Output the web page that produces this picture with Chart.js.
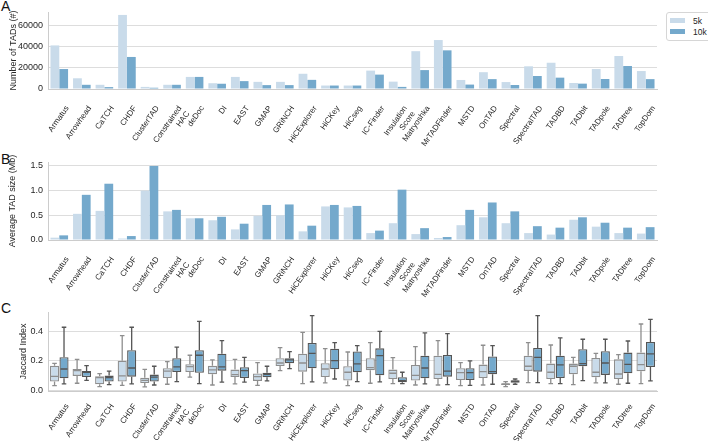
<!DOCTYPE html>
<html>
<head>
<meta charset="utf-8">
<script src="https://cdn.jsdelivr.net/npm/chart.js@4.4.0/dist/chart.umd.min.js"></script>
<style>
  body { margin: 0; background: #fff; width: 708px; height: 441px; position: relative; overflow: hidden;
         font-family: "Liberation Sans", Arial, sans-serif; }
  canvas { position: absolute; left: 0; }
  .panel { position: absolute; left: 1px; font-size: 14px; color: #111; }
  #legend { position: absolute; left: 666px; top: 12px; width: 50px; height: 27px; border: 1px solid #d6d6d6;
            border-radius: 3px; background: #fff; font-size: 8.5px; color: #262626; }
  #legend div { position: absolute; left: 3px; height: 10px; line-height: 10px; }
  #legend span { display: inline-block; width: 15px; height: 5px; margin-right: 8px; vertical-align: 1px; }
</style>
</head>
<body>
<div class="panel" style="top:-2px">A</div>
<div class="panel" style="top:151px">B</div>
<div class="panel" style="top:300px">C</div>
<canvas id="chartA" width="708" height="150" style="top:0"></canvas>
<canvas id="chartB" width="708" height="150" style="top:150px"></canvas>
<canvas id="chartC" width="708" height="141" style="top:300px"></canvas>
<div id="legend">
  <div style="top:3px"><span style="background:#c9dbea"></span>5k</div>
  <div style="top:14px"><span style="background:#74a9cc"></span>10k</div>
</div>
<script>
// DATA
const methods = ['Armatus', 'Arrowhead', 'CaTCH', 'CHDF', 'ClusterTAD', ['Constrained', 'HAC'], 'deDoc', 'DI', 'EAST',
  'GMAP', 'GRiNCH', 'HiCExplorer', 'HiCKey', 'HiCseg', 'IC-Finder', ['Insulation', 'Score'], 'Matryoshka',
  'MrTADFinder', 'MSTD', 'OnTAD', 'Spectral', 'SpectralTAD', 'TADBD', 'TADbit', 'TADpole', 'TADtree', 'TopDom'];

const tadCount5k = [41500, 10200, 4000, 70500, 2000, 4000, 11500, 5500, 11500, 6800, 6800, 14500, 3300, 3300,
  17500, 7000, 36000, 46600, 8600, 16000, 6600, 21600, 25000, 5700, 19000, 31400, 17100];
const tadCount10k = [19000, 4000, 1800, 30500, 1200, 4000, 11500, 5000, 7500, 3700, 3700, 8700, 3300, 3300,
  13700, 2000, 18000, 36800, 4200, 9400, 3800, 12400, 10800, 5100, 9500, 21900, 9400];

const tadSize5k = [0.047, 0.53, 0.59, 0.03, 1.0, 0.58, 0.44, 0.40, 0.215, 0.49, 0.50, 0.175, 0.68, 0.66,
  0.14, 0.34, 0.12, 0.04, 0.30, 0.46, 0.34, 0.14, 0.11, 0.41, 0.27, 0.14, 0.13];
const tadSize10k = [0.094, 0.915, 1.14, 0.08, 1.5, 0.61, 0.44, 0.47, 0.33, 0.71, 0.72, 0.29, 0.71, 0.69,
  0.19, 1.02, 0.24, 0.06, 0.61, 0.76, 0.58, 0.28, 0.25, 0.46, 0.35, 0.25, 0.26];

// Jaccard index boxes: [low whisker, q1, median, q3, high whisker]
const jaccard5k = [
  [0.032, 0.059, 0.095, 0.168, 0.184], [0.048, 0.098, 0.134, 0.145, 0.211], [0.025, 0.041, 0.086, 0.095, 0.114],
  [0.034, 0.059, 0.098, 0.202, 0.373], [0.023, 0.050, 0.068, 0.086, 0.143], [0.041, 0.084, 0.130, 0.150, 0.195],
  [0.089, 0.125, 0.161, 0.177, 0.239], [0.036, 0.109, 0.139, 0.168, 0.207], [0.043, 0.091, 0.107, 0.141, 0.211],
  [0.034, 0.064, 0.093, 0.114, 0.189], [0.134, 0.166, 0.186, 0.218, 0.291], [0.045, 0.127, 0.186, 0.250, 0.395],
  [0.050, 0.091, 0.145, 0.184, 0.284], [0.032, 0.066, 0.123, 0.164, 0.261], [0.048, 0.136, 0.155, 0.218, 0.325],
  [0.045, 0.077, 0.116, 0.141, 0.223], [0.036, 0.066, 0.102, 0.173, 0.298], [0.036, 0.077, 0.109, 0.236, 0.339],
  [0.032, 0.070, 0.120, 0.150, 0.189], [0.036, 0.084, 0.127, 0.175, 0.307], [0.025, 0.036, 0.041, 0.048, 0.059],
  [0.052, 0.132, 0.164, 0.236, 0.325], [0.045, 0.077, 0.123, 0.182, 0.309], [0.039, 0.109, 0.164, 0.182, 0.225],
  [0.050, 0.089, 0.123, 0.220, 0.252], [0.041, 0.077, 0.111, 0.211, 0.243], [0.045, 0.130, 0.175, 0.257, 0.452]];
const jaccard10k = [
  [0.043, 0.082, 0.145, 0.225, 0.430], [0.068, 0.091, 0.123, 0.132, 0.168], [0.039, 0.059, 0.086, 0.100, 0.130],
  [0.043, 0.093, 0.152, 0.273, 0.430], [0.036, 0.059, 0.089, 0.107, 0.164], [0.059, 0.125, 0.159, 0.218, 0.295],
  [0.045, 0.120, 0.239, 0.273, 0.470], [0.055, 0.134, 0.159, 0.250, 0.339], [0.055, 0.084, 0.134, 0.157, 0.225],
  [0.064, 0.089, 0.109, 0.120, 0.164], [0.148, 0.184, 0.207, 0.218, 0.264], [0.057, 0.150, 0.252, 0.323, 0.509],
  [0.077, 0.143, 0.202, 0.284, 0.325], [0.059, 0.123, 0.180, 0.264, 0.305], [0.057, 0.102, 0.236, 0.286, 0.402],
  [0.045, 0.055, 0.066, 0.089, 0.123], [0.043, 0.082, 0.152, 0.236, 0.391], [0.039, 0.093, 0.130, 0.241, 0.386],
  [0.034, 0.070, 0.120, 0.150, 0.200], [0.041, 0.109, 0.127, 0.230, 0.305], [0.041, 0.052, 0.061, 0.068, 0.077],
  [0.052, 0.127, 0.225, 0.289, 0.509], [0.045, 0.084, 0.173, 0.236, 0.357], [0.066, 0.164, 0.182, 0.280, 0.348],
  [0.050, 0.105, 0.186, 0.266, 0.348], [0.048, 0.116, 0.177, 0.257, 0.336], [0.064, 0.159, 0.248, 0.330, 0.484]];

const countTicks = [0, 20000, 40000, 60000];
const sizeTicks = [0, 0.5, 1.0, 1.5];
const jaccardTicks = [0, 0.2, 0.4];

// STYLE
Chart.defaults.font.family = '"Liberation Sans", Arial, sans-serif';
Chart.defaults.color = '#262626';
Chart.defaults.animation = false;
const COL5 = '#c9dbea', COL10 = '#74a9cc';

function xAxis(h, pad) {
  return {
    offset: true,
    grid: { display: false },
    border: { display: true, color: '#cccccc' },
    ticks: { autoSkip: false, minRotation: 55, maxRotation: 55, padding: pad, labelOffset: 8, font: { size: 8 } },
    afterFit: s => { s.height = h; }
  };
}

function yAxis(title, min, max, tickVals, fmt, titlePad) {
  return {
    min: min, max: max,
    grid: { color: '#dddddd', drawTicks: false },
    border: { display: true, color: '#cccccc' },
    ticks: { padding: 5, font: { size: 9 }, callback: v => fmt(v) },
    afterBuildTicks: s => { s.ticks = tickVals.map(v => ({ value: v })); },
    afterFit: s => { s.width = 48; },
    title: { display: true, text: title, font: { size: 9 }, padding: { top: titlePad, bottom: 0 } }
  };
}

function baseOptions(xh, pad, y) {
  return {
    responsive: false,
    layout: { padding: { left: 0, right: 51, top: 12, bottom: 0 } },
    plugins: { legend: { display: false }, tooltip: { enabled: false } },
    scales: { x: xAxis(xh, pad), y: y }
  };
}

function barSet(data, color) {
  return { data: data, backgroundColor: color, borderWidth: 0, categoryPercentage: 0.78, barPercentage: 1.0 };
}

// A: NUMBER OF TADS
new Chart(document.getElementById('chartA'), {
  type: 'bar',
  data: { labels: methods, datasets: [barSet(tadCount5k, COL5), barSet(tadCount10k, COL10)] },
  options: baseOptions(61, 7, yAxis('Number of TADs (#)', 0, 73300, countTicks, v => String(v), 8))
});

// B: AVERAGE TAD SIZE
new Chart(document.getElementById('chartB'), {
  type: 'bar',
  data: { labels: methods, datasets: [barSet(tadSize5k, COL5), barSet(tadSize10k, COL10)] },
  options: baseOptions(60, 7, yAxis('Average TAD size (Mb)', 0, 1.58, sizeTicks, v => v.toFixed(1), 7))
});

// C: JACCARD INDEX BOXPLOTS
const whiskers = {
  id: 'whiskers',
  afterDatasetsDraw(chart) {
    const ctx = chart.ctx, ys = chart.scales.y;
    chart.data.datasets.forEach((ds, di) => {
      chart.getDatasetMeta(di).data.forEach((bar, i) => {
        const [lo, q1, med, q3, hi] = ds.stats[i];
        const x = bar.x, w = bar.width;
        const py = v => ys.getPixelForValue(v);
        ctx.save();
        ctx.strokeStyle = ds.borderColor;
        ctx.lineWidth = 1.3;
        ctx.beginPath();
        ctx.moveTo(x, py(q3)); ctx.lineTo(x, py(hi));
        ctx.moveTo(x, py(q1)); ctx.lineTo(x, py(lo));
        ctx.moveTo(x - w / 4, py(hi)); ctx.lineTo(x + w / 4, py(hi));
        ctx.moveTo(x - w / 4, py(lo)); ctx.lineTo(x + w / 4, py(lo));
        ctx.moveTo(x - w / 2 + 1, py(med)); ctx.lineTo(x + w / 2 - 1, py(med));
        ctx.stroke();
        ctx.restore();
      });
    });
  }
};

function boxSet(stats, fill, edge) {
  return {
    stats: stats,
    data: stats.map(s => [s[1], s[3]]),
    backgroundColor: fill, borderColor: edge, borderWidth: 1.3, borderSkipped: false,
    categoryPercentage: 0.84, barPercentage: 0.96
  };
}

new Chart(document.getElementById('chartC'), {
  type: 'bar',
  data: { labels: methods, datasets: [boxSet(jaccard5k, COL5, '#8e8e8e'), boxSet(jaccard10k, COL10, '#555555')] },
  options: baseOptions(50, 3, yAxis('Jaccard Index', -0.005, 0.534, jaccardTicks, v => v.toFixed(1), 18)),
  plugins: [whiskers]
});
</script>
</body>
</html>
